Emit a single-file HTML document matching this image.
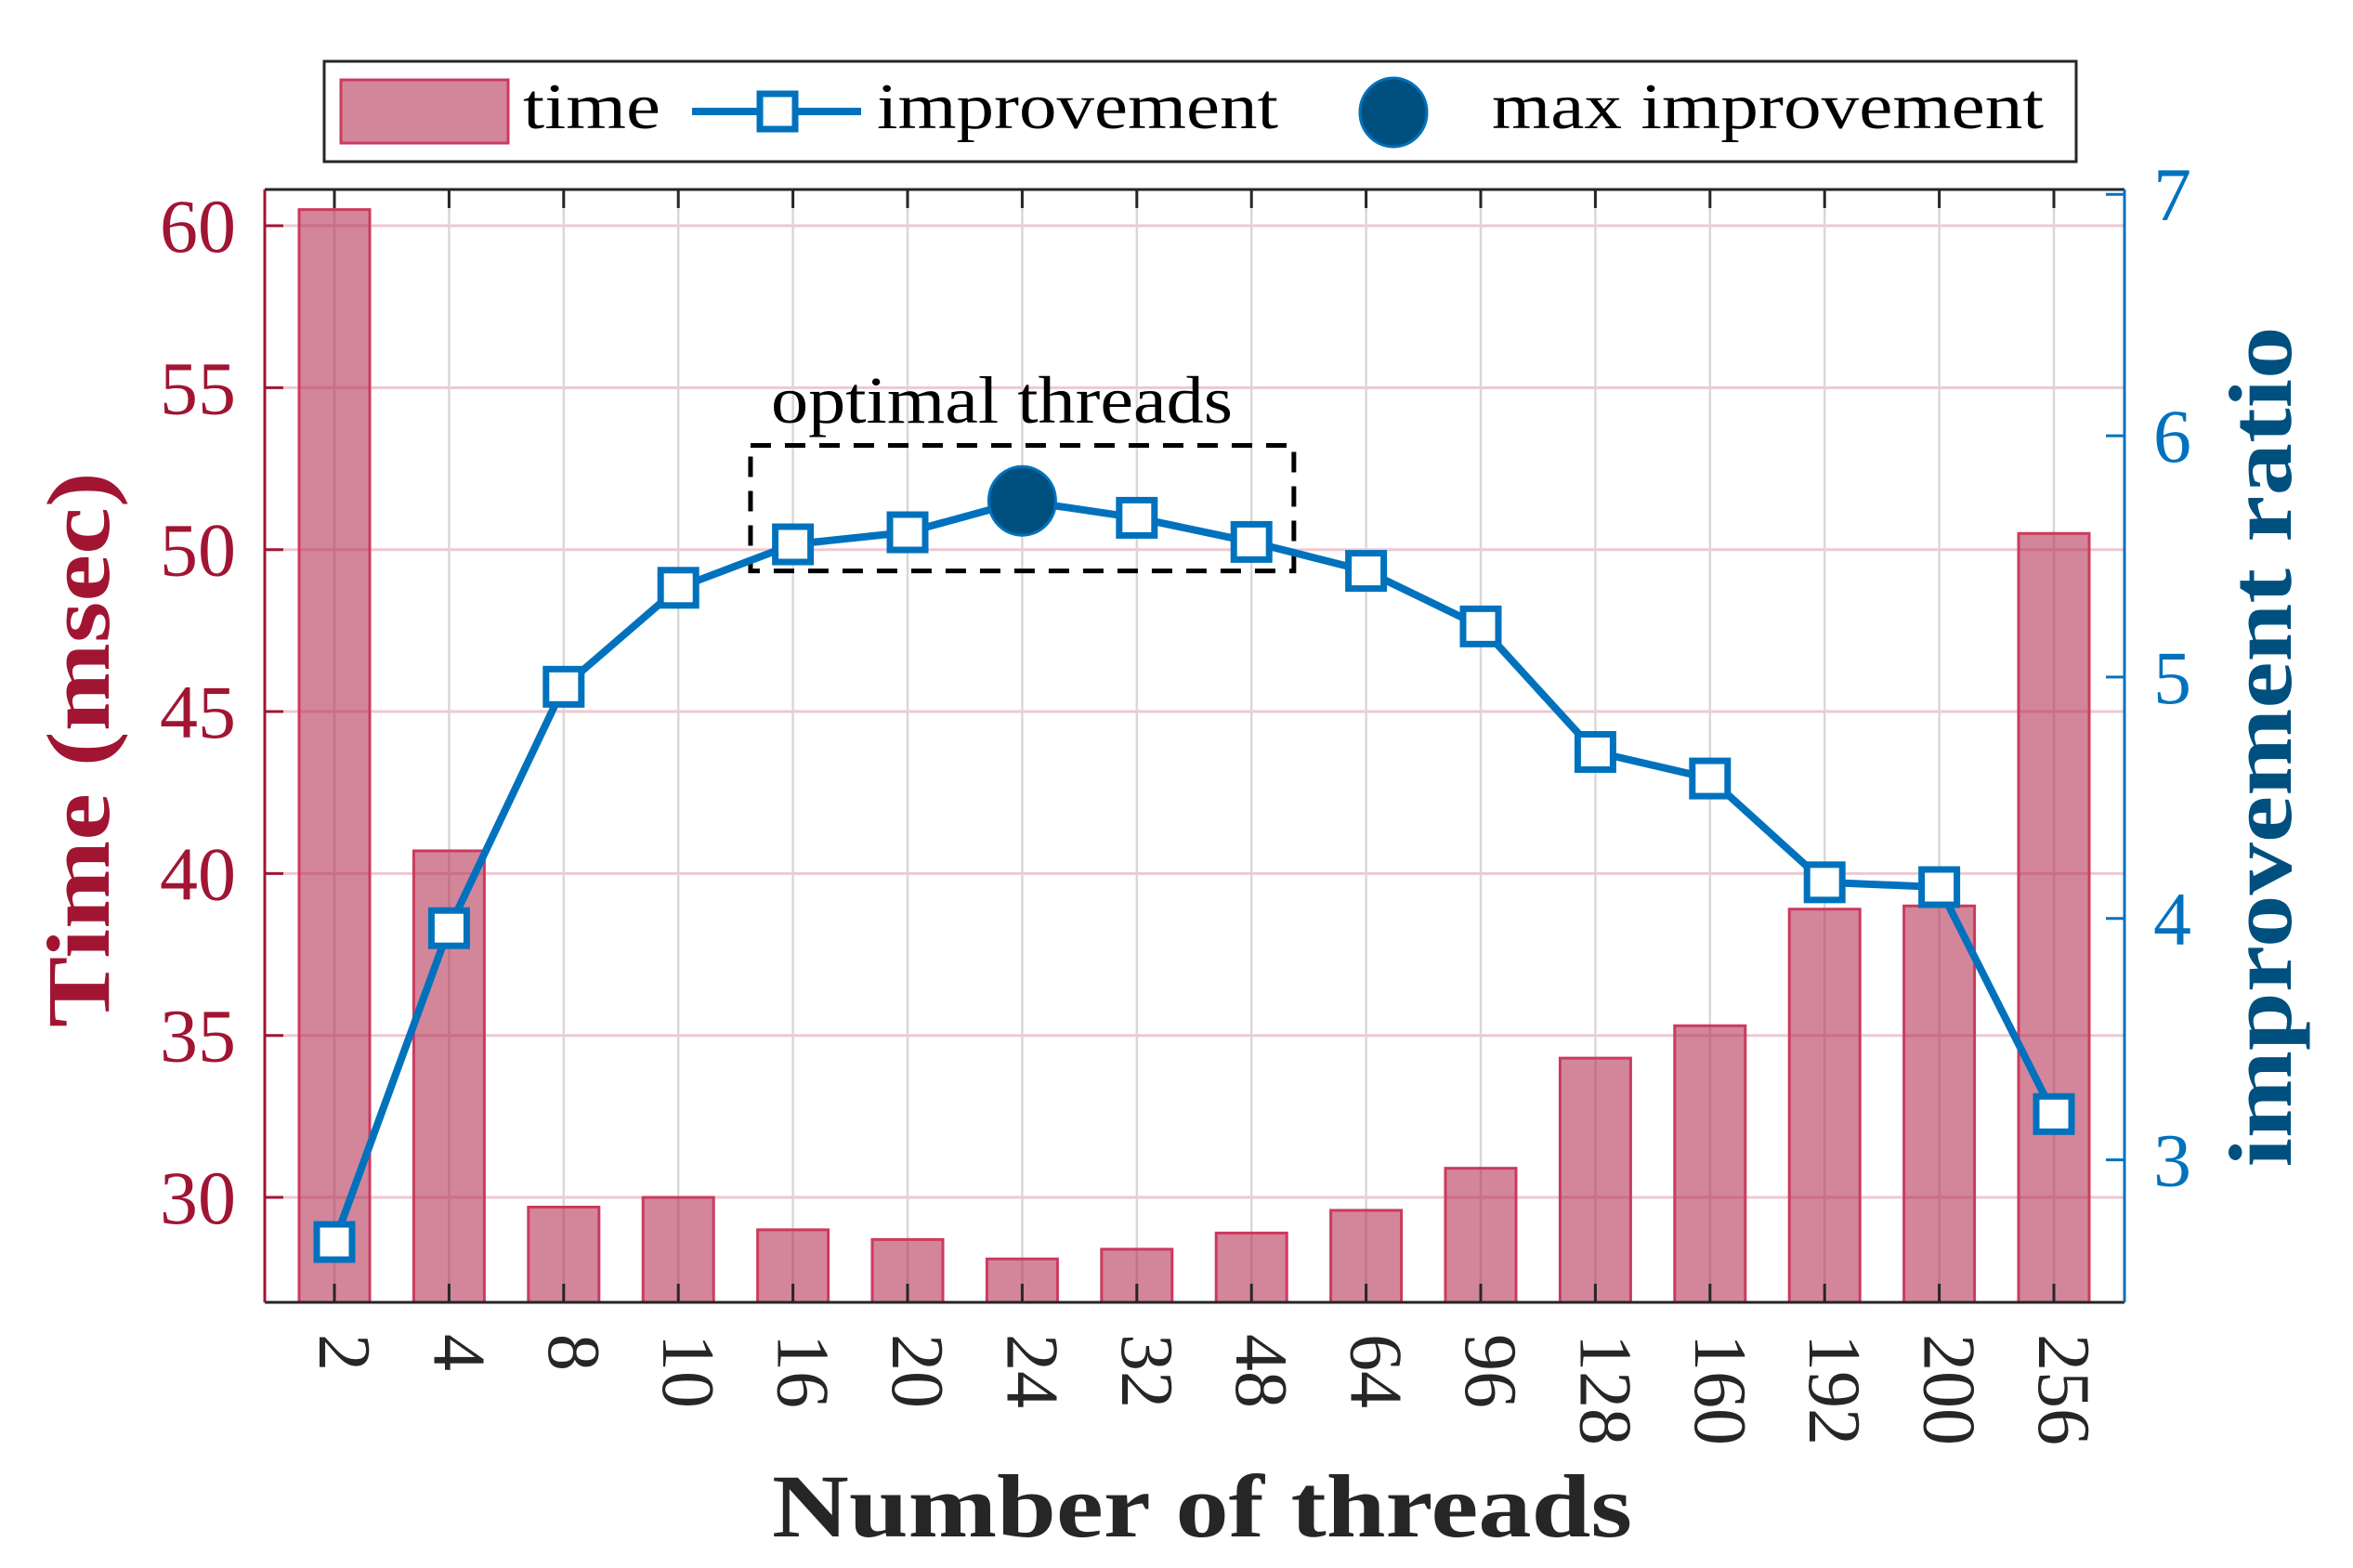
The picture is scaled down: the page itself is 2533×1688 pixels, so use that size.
<!DOCTYPE html>
<html><head><meta charset="utf-8"><style>
html,body{margin:0;padding:0;background:#fff;}
svg{display:block;}
text{font-family:"Liberation Serif",serif;}
</style></head><body>
<svg id="chart" width="2533" height="1688" viewBox="0 0 2533 1688" xmlns="http://www.w3.org/2000/svg">
<g id="grid"></g>
<g id="bars"></g>
<g id="axes"></g>
<g id="line"></g>
<g id="labels"></g>
</svg>
<script>
const categories = ["2","4","8","10","16","20","24","32","48","64","96","128","160","192","200","256"];
const timeValues = [60.5,40.7,29.7,30.0,29.0,28.7,28.1,28.4,28.9,29.6,30.9,34.3,35.3,38.9,39.0,50.5];
const improvementValues = [2.66,3.96,4.96,5.37,5.55,5.60,5.73,5.66,5.56,5.44,5.21,4.69,4.58,4.15,4.13,3.19];
const maxIndex = 6;
const leftTicks = [30,35,40,45,50,55,60];
const rightTicks = [3,4,5,6,7];
const leftDomain = [26.76, 61.12];
const rightDomain = [2.41, 7.02];
const optimalRange = [3.63, 8.37];
const optimalY = [5.44, 5.96];

const NS="http://www.w3.org/2000/svg";
const L=285,R=2287,T=204,B=1402;
const x0=360, step=123.4;
function xPos(i){return x0+i*step;}
function yL(v){return B-(v-leftDomain[0])/(leftDomain[1]-leftDomain[0])*(B-T);}
function yR(v){return B-(v-rightDomain[0])/(rightDomain[1]-rightDomain[0])*(B-T);}
function mk(tag,attrs,parent){const e=document.createElementNS(NS,tag);for(const k in attrs)e.setAttribute(k,attrs[k]);parent.appendChild(e);return e;}
const grid=document.getElementById('grid'),bars=document.getElementById('bars'),axes=document.getElementById('axes'),line=document.getElementById('line'),labels=document.getElementById('labels');

leftTicks.forEach(v=>{
  const g=mk('line',{x1:L,x2:R,y1:yL(v),y2:yL(v),stroke:'#edc9d2','stroke-width':3},grid);
  
  
});
categories.forEach((c,i)=>{
  const g=mk('line',{x1:xPos(i),x2:xPos(i),y1:T,y2:B,stroke:'#d8d8d8','stroke-width':2.5},grid);
  
  
});
categories.forEach((c,i)=>{
  const y=yL(timeValues[i]);
  const b=mk('rect',{x:xPos(i)-38,y:y,width:76,height:B-y,fill:'rgba(178,42,78,0.57)',stroke:'#cc3a5e','stroke-width':3},bars);
  
  
});
mk('line',{x1:L,x2:R,y1:T,y2:T,stroke:'#262626','stroke-width':3},axes);
mk('line',{x1:L,x2:R,y1:B,y2:B,stroke:'#262626','stroke-width':3},axes);
const la=mk('line',{x1:L,x2:L,y1:T,y2:B,stroke:'#a11533','stroke-width':3},axes);


const ra=mk('line',{x1:R,x2:R,y1:T,y2:B,stroke:'#0072bd','stroke-width':3},axes);


categories.forEach((c,i)=>{
  mk('line',{x1:xPos(i),x2:xPos(i),y1:T,y2:T+20,stroke:'#262626','stroke-width':3},axes);
  mk('line',{x1:xPos(i),x2:xPos(i),y1:B,y2:B-20,stroke:'#262626','stroke-width':3},axes);
  const t=mk('text',{x:0,y:0,transform:'translate('+(xPos(i)+10)+',1436) rotate(90)','font-size':80,fill:'#262626','dominant-baseline':'central'},labels);
  t.textContent=c;
  
  
});
leftTicks.forEach(v=>{
  mk('line',{x1:L,x2:L+20,y1:yL(v),y2:yL(v),stroke:'#a11533','stroke-width':3},axes);
  const t=mk('text',{x:254,y:yL(v)+28,'font-size':82,fill:'#a11533','text-anchor':'end'},labels);
  t.textContent=v;
  
  
});
rightTicks.forEach(v=>{
  mk('line',{x1:R,x2:R-20,y1:yR(v),y2:yR(v),stroke:'#0072bd','stroke-width':3},axes);
  const t=mk('text',{x:2318,y:yR(v)+28,'font-size':82,fill:'#0072bd'},labels);
  t.textContent=v;
  
  
});
const ob=mk('rect',{x:xPos(0)+(optimalRange[0])*step,y:yR(optimalY[1]),width:(optimalRange[1]-optimalRange[0])*step,height:yR(optimalY[0])-yR(optimalY[1]),fill:'none',stroke:'#000','stroke-width':5,'stroke-dasharray':'22 15'},line);


const pts=improvementValues.map((v,i)=>xPos(i)+','+yR(v)).join(' ');
const pl=mk('polyline',{points:pts,fill:'none',stroke:'#0072bd','stroke-width':8,'stroke-linejoin':'round'},line);


improvementValues.forEach((v,i)=>{
  if(i===maxIndex) return;
  const m=mk('rect',{x:xPos(i)-19,y:yR(v)-19,width:38,height:38,fill:'#fff',stroke:'#0072bd','stroke-width':7},line);
  
  
});
const mc=mk('ellipse',{cx:xPos(maxIndex),cy:yR(improvementValues[maxIndex]),rx:36,ry:37,fill:'#00507f',stroke:'#0072bd','stroke-width':3},line);


</script>
<svg style="position:absolute;left:0;top:0" width="2533" height="1688" xmlns="http://www.w3.org/2000/svg">
<text x="830" y="455" font-size="72" textLength="497" lengthAdjust="spacingAndGlyphs" fill="#000">optimal threads</text>
<text transform="translate(117,807) rotate(-90)" text-anchor="middle" font-size="96" font-weight="bold" fill="#a11533" textLength="598" lengthAdjust="spacingAndGlyphs">Time (msec)</text>
<text transform="translate(2466,804) rotate(-90)" text-anchor="middle" font-size="96" font-weight="bold" fill="#00507f" textLength="905" lengthAdjust="spacingAndGlyphs">improvement ratio</text>
<text x="831" y="1654" font-size="96" font-weight="bold" fill="#262626" textLength="926" lengthAdjust="spacingAndGlyphs">Number of threads</text>
<g>
<rect x="349" y="66" width="1886" height="108" fill="#fff" stroke="#262626" stroke-width="3"/>
<rect x="367" y="86" width="180" height="68" fill="rgba(178,42,78,0.57)" stroke="#cc3a5e" stroke-width="3"/>
<text x="563" y="138" font-size="70" textLength="148" lengthAdjust="spacingAndGlyphs" fill="#000">time</text>
<line x1="745" y1="120" x2="927" y2="120" stroke="#0072bd" stroke-width="8"/>
<rect x="818" y="101" width="38" height="38" fill="#fff" stroke="#0072bd" stroke-width="7"/>
<text x="944" y="138" font-size="70" textLength="432" lengthAdjust="spacingAndGlyphs" fill="#000">improvement</text>
<ellipse cx="1500" cy="121" rx="36" ry="37" fill="#00507f" stroke="#0072bd" stroke-width="3"/>
<text x="1606" y="138" font-size="70" textLength="594" lengthAdjust="spacingAndGlyphs" fill="#000">max improvement</text>
</g>
</svg>
</body></html>
